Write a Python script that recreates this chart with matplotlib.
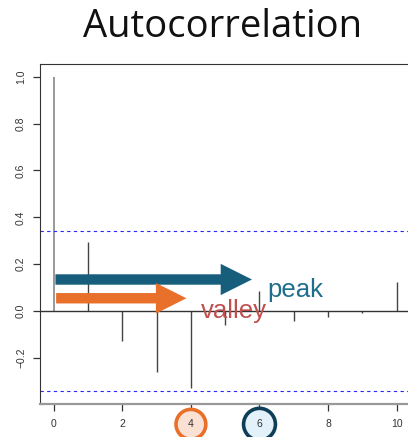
import numpy as np
import matplotlib
matplotlib.use("Agg")
import matplotlib.pyplot as plt

# ACF values
lags = [0, 1, 2, 3, 4, 5, 6, 7, 8, 9, 10]
acf = [1.0, 0.294, -0.126, -0.261, -0.328, -0.06, 0.086, -0.044, -0.026, -0.006, 0.125]
conf = 0.34
xticks = [0, 2, 4, 6, 8, 10]
yticks = [-0.2, 0.0, 0.2, 0.4, 0.6, 0.8, 1.0]

plt.rcParams['font.family'] = ['Liberation Sans', 'DejaVu Sans']

fig = plt.figure(figsize=(4.08, 4.37), dpi=100)
ax = fig.add_axes([40/408, 33/437, 370.4/408, 340/437])

ax.vlines(lags[:1], 0, acf[:1], color='#888888', lw=1.2)
ax.vlines(lags[1:], 0, acf[1:], color='#444444', lw=1.0)
ax.axhline(0, color='#333333', lw=1.0)
ax.axhline(conf, color='#2a2aff', lw=0.8, ls=(0, (3, 3)))
ax.axhline(-conf, color='#2a2aff', lw=0.8, ls=(0, (3, 3)))

ax.set_xlim(-0.4, 10.4)
ax.set_ylim(-0.396, 1.054)
ax.set_xticks(xticks)
ax.set_yticks(yticks)
ax.set_xticklabels([str(t) for t in xticks])
ax.set_yticklabels(['\u22120.2', '0.0', '0.2', '0.4', '0.6', '0.8', '1.0'], rotation=90, va='center')
ax.tick_params(axis='both', labelsize=7.5, colors='#333333', length=5, width=0.9)
ax.tick_params(axis='x', pad=6)
ax.tick_params(axis='y', pad=5)
for s in ['left', 'top', 'right']:
    ax.spines[s].set_color('#333333')
ax.spines['bottom'].set_color('#999999')
ax.spines['bottom'].set_linewidth(1.6)

# circled tick labels
for lab in ax.get_xticklabels():
    if lab.get_text() == '4':
        lab.set_bbox(dict(boxstyle='circle,pad=0.95', fc='#fbe1d4', ec='#e8702a', lw=2.6))
    elif lab.get_text() == '6':
        lab.set_bbox(dict(boxstyle='circle,pad=1.05', fc='#e3f1fa', ec='#0f3f57', lw=2.6))

# annotation arrows
ax.annotate('', xy=(5.78, 0.135), xytext=(0.05, 0.135),
            arrowprops=dict(arrowstyle='simple,head_length=2.25,head_width=2.25,tail_width=0.75',
                            mutation_scale=10, color='#175e7d', lw=0, shrinkA=0, shrinkB=0))
ax.annotate('', xy=(3.87, 0.055), xytext=(0.07, 0.055),
            arrowprops=dict(arrowstyle='simple,head_length=2.2,head_width=2.2,tail_width=0.75',
                            mutation_scale=10, color='#e8702a', lw=0, shrinkA=0, shrinkB=0))
ax.text(6.23, 0.062, 'peak', color='#1f6e8c', fontsize=18.5, va='baseline')
ax.text(4.3, -0.029, 'valley', color='#c0504d', fontsize=18.5, va='baseline')

fig.text(0.545, 0.916, 'Autocorrelation', ha='center', va='baseline', fontsize=27.5,
         family=['Open Sans', 'DejaVu Sans'], color='#111111')

fig.savefig('out.png', dpi=100)
